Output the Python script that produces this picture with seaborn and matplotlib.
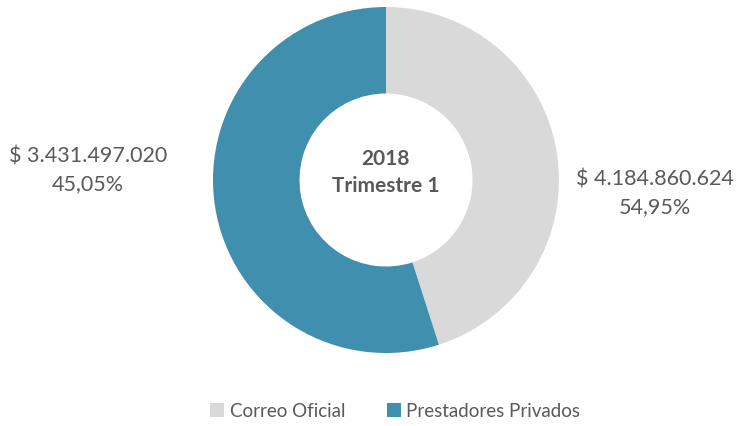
import seaborn as sns
import matplotlib.pyplot as plt

# Data
categories = ['Correo Oficial', 'Prestadores Privados']
values = [3431497020, 4184860624]
colors = ['#D9D9D9', '#418FAE']
center_title = ['2018', 'Trimestre 1']

sns.set_theme(style='white')
plt.rcParams['font.family'] = ['Lato', 'DejaVu Sans']
text_color = '#595959'

fig = plt.figure(figsize=(7.46, 4.27), dpi=100)
W, H = 746, 427
cx, cy, r = 386, 181, 173
ax = fig.add_axes([(cx - r) / W, (H - cy - r) / H, 2 * r / W, 2 * r / H])

wedges, _ = ax.pie(values, colors=colors, startangle=90, counterclock=False,
                   radius=1, wedgeprops=dict(width=0.5, linewidth=0))
ax.set_xlim(-1, 1)
ax.set_ylim(-1, 1)
ax.set_aspect('equal')
ax.axis('off')

total = sum(values)

def fmt_label(v):
    money = '$ ' + f'{v:,}'.replace(',', '.')
    pct = f'{v / total * 100:.2f}'.replace('.', ',') + '%'
    return money + '\n' + pct

# labels as placed in the original chart
fig.text(88 / W, 1 - 170 / H, fmt_label(values[0]), ha='center', va='center',
         fontsize=15.5, color=text_color, linespacing=1.45)
fig.text(655 / W, 1 - 193 / H, fmt_label(values[1]), ha='center', va='center',
         fontsize=15.5, color=text_color, linespacing=1.45)

ax.text(0, 0.05, '\n'.join(center_title), ha='center', va='center',
        fontsize=15, fontweight='bold', color=text_color, linespacing=1.45)

fig.legend(wedges, categories, loc='center', bbox_to_anchor=(0.53, 1 - 412 / H),
           ncol=2, frameon=False, fontsize=13.5, labelcolor=text_color,
           handlelength=0.75, handleheight=0.75, handletextpad=0.3, columnspacing=2.2)

fig.savefig('out.png', dpi=100)
